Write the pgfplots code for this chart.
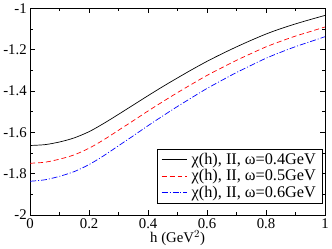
\documentclass[border=0pt]{standalone}
\usepackage{fontspec}
\setmainfont{Liberation Serif}
\usepackage{pgfplots}
\pgfplotsset{compat=1.18}
\begin{document}
\begin{tikzpicture}
\begin{axis}[
  scale only axis,
  width=298bp, height=209bp,
  xmin=0, xmax=1, ymin=-2, ymax=-1,
  xtick={0,0.2,...,1}, ytick={-2,-1.8,...,-1},
  minor x tick num=1, minor y tick num=1,
  tick align=inside,
  major tick length=5bp, minor tick length=3bp,
  tick style={black, line width=0.5pt},
  axis line style={line width=0.6pt},
  /pgf/number format/assume math mode=true,
  ticklabel style={font=\fontsize{15}{17}\selectfont},
  yticklabel style={/pgf/number format/fixed, /pgf/number format/precision=1},
  xticklabel style={/pgf/number format/fixed, /pgf/number format/precision=1},
  xlabel={h (GeV$^2$)},
  xlabel style={font=\fontsize{15}{17}\selectfont, yshift=5bp},
  legend style={at={(0.99,0.057)}, anchor=south east, font=\fontsize{16.5}{17}\selectfont,
    draw=black, line width=0.5pt, inner xsep=4bp, inner ysep=2bp, row sep=0bp,
    /tikz/every odd column/.append style={column sep=2bp}},
  legend cell align=left,
  legend image code/.code={\draw[#1, line width=0.7pt] (0bp,0bp) -- (26bp,0bp);},
]
\addplot[black, line width=0.7pt, smooth] coordinates {
(0,-1.664)(0.05,-1.660)(0.1,-1.647)(0.15,-1.627)(0.2,-1.597)(0.25,-1.557)(0.3,-1.513)(0.35,-1.468)(0.4,-1.423)(0.45,-1.379)(0.5,-1.337)(0.55,-1.296)(0.6,-1.257)(0.65,-1.221)(0.7,-1.187)(0.75,-1.155)(0.8,-1.125)(0.85,-1.099)(0.9,-1.076)(0.95,-1.055)(1,-1.035)};
\addlegendentry{χ(h), II, ω=0.4GeV}
\addplot[red, dash pattern=on 5bp off 3bp, line width=0.7pt, smooth] coordinates {
(0,-1.750)(0.05,-1.745)(0.1,-1.730)(0.15,-1.709)(0.2,-1.677)(0.25,-1.636)(0.3,-1.590)(0.35,-1.544)(0.4,-1.497)(0.45,-1.452)(0.5,-1.408)(0.55,-1.366)(0.6,-1.325)(0.65,-1.288)(0.7,-1.252)(0.75,-1.219)(0.8,-1.187)(0.85,-1.160)(0.9,-1.135)(0.95,-1.113)(1,-1.091)};
\addlegendentry{χ(h), II, ω=0.5GeV}
\addplot[blue, dash pattern=on 6bp off 2bp on 1bp off 2bp, line width=0.7pt, smooth] coordinates {
(0,-1.837)(0.05,-1.830)(0.1,-1.813)(0.15,-1.790)(0.2,-1.756)(0.25,-1.713)(0.3,-1.665)(0.35,-1.617)(0.4,-1.568)(0.45,-1.521)(0.5,-1.475)(0.55,-1.431)(0.6,-1.388)(0.65,-1.349)(0.7,-1.311)(0.75,-1.276)(0.8,-1.242)(0.85,-1.213)(0.9,-1.186)(0.95,-1.162)(1,-1.138)};
\addlegendentry{χ(h), II, ω=0.6GeV}
\end{axis}
\end{tikzpicture}
\end{document}
